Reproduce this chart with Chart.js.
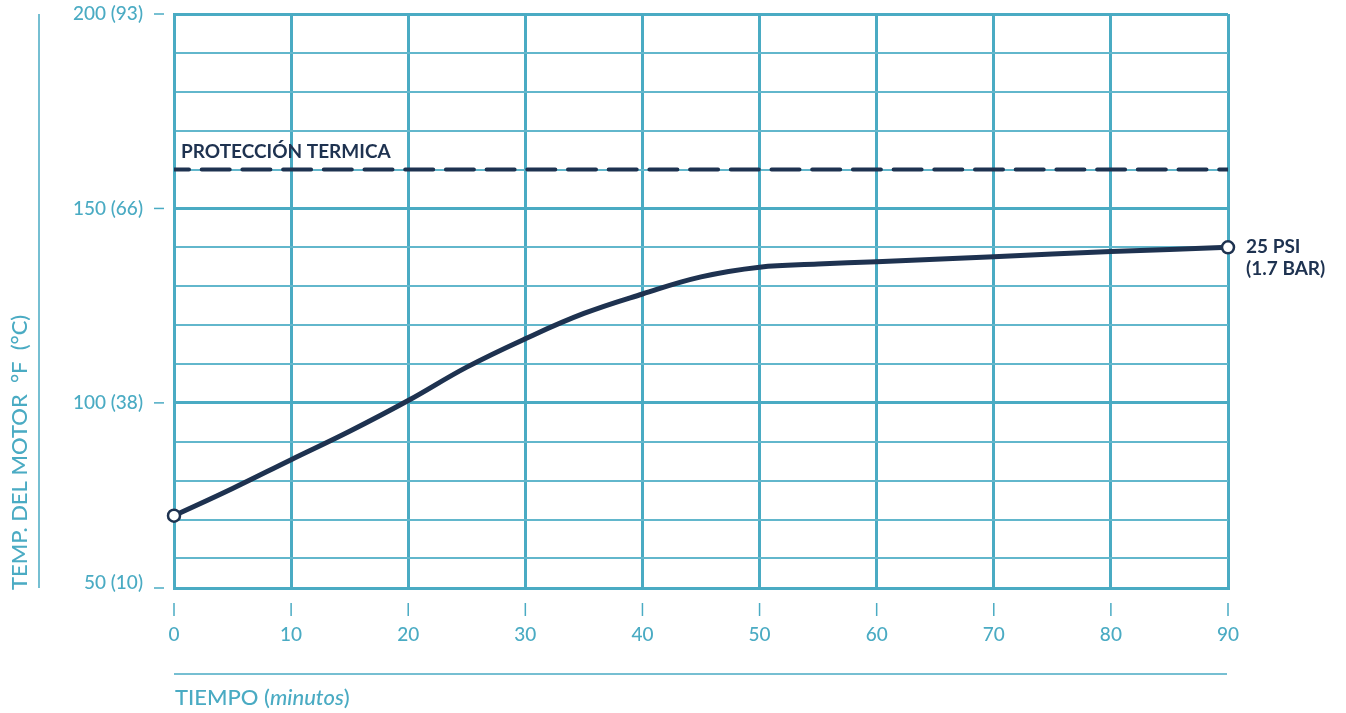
<!DOCTYPE html>
<html>
<head>
<meta charset="utf-8">
<script src="https://cdn.jsdelivr.net/npm/chart.js@4.4.1/dist/chart.umd.min.js"></script>
<style>
    html, body { margin: 0; padding: 0; background: #fff; }
    #wrap { width: 1346px; height: 713px; position: relative; }
</style>
</head>
<body>
<div id="wrap"><canvas id="chart"></canvas></div>
<script>
// datos
const minutos = [0, 5, 10, 15, 20, 25, 30, 35, 40, 45, 50, 55, 60, 70, 80, 90];
const tempMotor = [71, 78, 85.4, 92.7, 100.6, 109.2, 116.5, 123, 128, 132.4, 134.9, 135.7, 136.3, 137.6, 138.9, 140];
const proteccionTermica = 160;
const yGridValues = [53.7, 60, 70, 80, 90, 100, 110, 120, 130, 140, 150, 160, 170, 180, 190, 200];
const yTickLabels = { 53.7: '50 (10)', 100: '100 (38)', 150: '150 (66)', 200: '200 (93)' };
const xTicks = [0, 10, 20, 30, 40, 50, 60, 70, 80, 90];

const teal = '#4aabc3';
const tealLight = '#62b7cc';
const navy = '#1e3250';
const font = 'Lato, "Open Sans", sans-serif';

const decorations = {
    id: 'decorations',
    afterDraw(chart) {
        const { ctx, chartArea: area, scales: { x, y } } = chart;
        ctx.save();
        ctx.strokeStyle = teal;
        ctx.lineWidth = 1.5;

        // marcas del eje x
        xTicks.forEach(v => {
            const px = x.getPixelForValue(v);
            ctx.beginPath();
            ctx.moveTo(px, area.bottom + 15);
            ctx.lineTo(px, area.bottom + 28);
            ctx.stroke();
        });
        // marcas del eje y
        [200, 150, 100].map(v => y.getPixelForValue(v)).concat([area.bottom]).forEach(py => {
            ctx.beginPath();
            ctx.moveTo(area.left - 20, py);
            ctx.lineTo(area.left - 10, py);
            ctx.stroke();
        });

        // lineas de los titulos
        ctx.beginPath();
        ctx.moveTo(39, area.top);
        ctx.lineTo(39, area.bottom);
        ctx.moveTo(area.left, area.bottom + 86);
        ctx.lineTo(area.right - 1, area.bottom + 86);
        ctx.stroke();

        // titulo eje x
        ctx.fillStyle = teal;
        ctx.textBaseline = 'alphabetic';
        ctx.textAlign = 'left';
        let tx = area.left + 1;
        const ty = area.bottom + 117;
        ctx.font = '500 22px ' + font;
        ctx.fillText('TIEMPO (', tx, ty);
        tx += ctx.measureText('TIEMPO (').width;
        ctx.font = 'italic 500 22px ' + font;
        ctx.fillText('minutos', tx, ty);
        tx += ctx.measureText('minutos').width;
        ctx.font = '500 22px ' + font;
        ctx.fillText(')', tx, ty);

        // titulo eje y
        ctx.save();
        ctx.translate(20, area.bottom + 2);
        ctx.rotate(-Math.PI / 2);
        ctx.textBaseline = 'middle';
        ctx.font = '500 22px ' + font;
        ctx.fillText('TEMP. DEL MOTOR  \u00B0F  (\u00B0C)', 0, 0);
        ctx.restore();

        // etiquetas
        ctx.fillStyle = navy;
        ctx.font = 'bold 19px ' + font;
        ctx.fillText('PROTECCI\u00D3N TERMICA', area.left + 7, y.getPixelForValue(proteccionTermica) - 12);

        const last = tempMotor.length - 1;
        const ex = x.getPixelForValue(minutos[last]);
        const ey = y.getPixelForValue(tempMotor[last]);
        ctx.textBaseline = 'middle';
        ctx.fillText('25 PSI', ex + 18, ey);
        ctx.fillText('(1.7 BAR)', ex + 18, ey + 22);
        ctx.restore();
    }
};

new Chart(document.getElementById('chart').getContext('2d'), {
    type: 'line',
    data: {
        datasets: [
            {
                label: 'Temperatura',
                data: minutos.map((m, i) => ({ x: m, y: tempMotor[i] })),
                borderColor: navy,
                borderWidth: 5,
                tension: 0.4,
                pointRadius: ctx => (ctx.dataIndex === 0 || ctx.dataIndex === tempMotor.length - 1) ? 6 : 0,
                pointBackgroundColor: '#fff',
                pointBorderColor: navy,
                pointBorderWidth: 2.5,
                clip: false,
                order: 0
            },
            {
                label: 'Protecci\u00F3n termica',
                data: [{ x: 0, y: proteccionTermica }, { x: 90, y: proteccionTermica }],
                borderColor: navy,
                borderWidth: 4,
                borderDash: [28, 12.7],
                borderDashOffset: 13,
                borderCapStyle: 'round',
                pointRadius: 0,
                order: 1
            }
        ]
    },
    options: {
        responsive: true,
        maintainAspectRatio: false,
        animation: false,
        events: [],
        layout: { padding: { top: 14, right: 118, left: 0, bottom: 0 } },
        plugins: {
            legend: { display: false },
            tooltip: { enabled: false }
        },
        scales: {
            x: {
                type: 'linear',
                min: 0,
                max: 90,
                afterFit: scale => {
                    scale.height = 125;
                    scale.paddingLeft = 0;
                    scale.paddingRight = 0;
                },
                ticks: {
                    stepSize: 10,
                    color: teal,
                    font: { size: 19, family: font, weight: 500 },
                    padding: 35,
                    maxRotation: 0
                },
                grid: {
                    color: teal,
                    lineWidth: 3,
                    drawTicks: false
                },
                border: { display: true, color: teal, width: 3 }
            },
            y: {
                type: 'linear',
                min: 52.4,
                max: 200,
                afterFit: scale => {
                    scale.width = 174;
                    scale.paddingTop = 0;
                    scale.paddingBottom = 0;
                },
                afterBuildTicks: scale => {
                    scale.ticks = yGridValues.map(v => ({ value: v }));
                },
                ticks: {
                    autoSkip: false,
                    color: teal,
                    font: { size: 19, family: font, weight: 500 },
                    padding: 31,
                    callback: value => yTickLabels[value] || ''
                },
                grid: {
                    color: ctx => ctx.tick && ctx.tick.value === 53.7 ? 'transparent'
                        : (ctx.tick && ctx.tick.value % 50 === 0 ? teal : tealLight),
                    lineWidth: ctx => ctx.tick && ctx.tick.value % 50 === 0 ? 3 : 2,
                    drawTicks: false
                },
                border: { display: true, color: teal, width: 3 }
            }
        }
    },
    plugins: [decorations]
});
</script>
</body>
</html>
